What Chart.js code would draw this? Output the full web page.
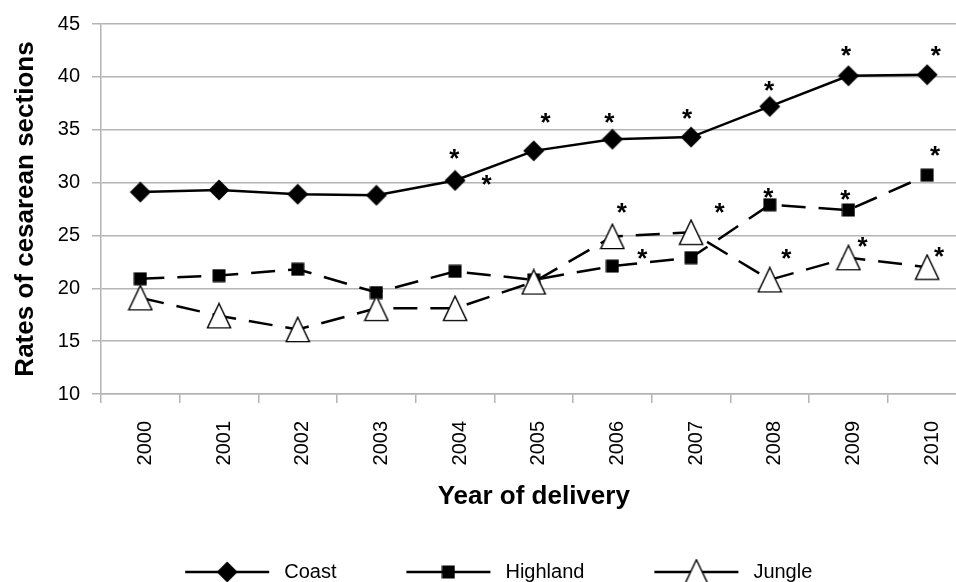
<!DOCTYPE html>
<html lang="en">
<head>
    <meta charset="UTF-8">
    <title>Rates of cesarean sections by year</title>
    <script src="https://cdn.jsdelivr.net/npm/chart.js"></script>
    <style>
        html, body {
            margin: 0;
            padding: 0;
            background: #fff;
            overflow: hidden;
        }
        #wrap {
            width: 981px;
            height: 582px;
        }
    </style>
</head>
<body>
    <div id="wrap">
        <canvas id="csChart" width="981" height="582"></canvas>
    </div>

    <script>
        // data
        const years = ["2000", "2001", "2002", "2003", "2004", "2005", "2006", "2007", "2008", "2009", "2010"];
        const coast = [29.1, 29.3, 28.9, 28.8, 30.2, 33.0, 34.1, 34.3, 37.2, 40.1, 40.2];
        const highland = [20.9, 21.2, 21.8, 19.6, 21.6, 20.8, 22.1, 22.9, 27.9, 27.4, 30.7];
        const jungle = [19.1, 17.4, 16.1, 18.1, 18.1, 20.6, 24.9, 25.3, 20.8, 22.9, 22.0];
        const yTicks = [10, 15, 20, 25, 30, 35, 40, 45];

        // significance asterisks (category index, value)
        const starIdx = [3.99, 4.40, 5.15, 5.96, 6.95, 7.99, 8.97, 10.11, 7.98, 8.96, 10.10, 6.12, 7.36, 6.38, 8.21, 9.18, 10.15];
        const starVal = [32.9, 30.4, 36.3, 36.3, 36.7, 39.3, 42.6, 42.6, 29.25, 28.97, 33.2, 27.75, 27.75, 23.44, 23.44, 24.56, 23.62];

        const FONT = "Arial, 'Liberation Sans', sans-serif";

        // marker images
        function makeDiamond() {
            const c = document.createElement("canvas");
            c.width = 22; c.height = 22;
            const g = c.getContext("2d");
            g.beginPath();
            g.moveTo(11, 0.5); g.lineTo(21.5, 11); g.lineTo(11, 21.5); g.lineTo(0.5, 11);
            g.closePath();
            g.fillStyle = "#000";
            g.fill();
            return c;
        }
        function makeSquare() {
            const c = document.createElement("canvas");
            c.width = 14; c.height = 14;
            const g = c.getContext("2d");
            g.fillStyle = "#000";
            g.fillRect(0.5, 0.5, 13, 13);
            return c;
        }
        function makeTriangle() {
            const c = document.createElement("canvas");
            c.width = 26; c.height = 27;
            const g = c.getContext("2d");
            g.beginPath();
            g.moveTo(13, 1.2); g.lineTo(24.6, 25.6); g.lineTo(1.4, 25.6);
            g.closePath();
            g.fillStyle = "#fff";
            g.fill();
            g.lineWidth = 1.4;
            g.strokeStyle = "#000";
            g.stroke();
            return c;
        }
        const diamond = makeDiamond();
        const square = makeSquare();
        const triangle = makeTriangle();

        const starPlugin = {
            id: "stars",
            afterDatasetsDraw(chart) {
                const ctx = chart.ctx;
                const xs = chart.scales.x, ys = chart.scales.y;
                ctx.save();
                ctx.fillStyle = "#000";
                ctx.font = "bold 26px " + FONT;
                ctx.textAlign = "center";
                ctx.textBaseline = "alphabetic";
                starIdx.forEach((ix, i) => {
                    const px = xs.getPixelForValue(ix);
                    const py = ys.getPixelForValue(starVal[i]);
                    ctx.fillText("*", px, py + 15);
                });
                ctx.restore();
            }
        };

        // legend: line + marker, then label
        const legendPlugin = {
            id: "lineLegend",
            afterDraw(chart) {
                const ctx = chart.ctx;
                const items = chart.data.datasets.map(d => ({ text: d.label, img: d.pointStyle }));
                const lineW = 84, gapText = 15, gapItem = 70;
                ctx.save();
                ctx.font = "20px " + FONT;
                let total = 0;
                items.forEach((it, i) => {
                    it.w = ctx.measureText(it.text).width;
                    total += lineW + gapText + it.w + (i ? gapItem : 0);
                });
                const ca = chart.chartArea;
                let x = (ca.left + ca.right) / 2 - 35 - total / 2;
                const y = 572;
                items.forEach(it => {
                    ctx.strokeStyle = "#000";
                    ctx.lineWidth = 2.5;
                    ctx.beginPath();
                    ctx.moveTo(x, y);
                    ctx.lineTo(x + lineW, y);
                    ctx.stroke();
                    ctx.drawImage(it.img, x + lineW / 2 - it.img.width / 2, y - it.img.height / 2);
                    ctx.fillStyle = "#000";
                    ctx.textAlign = "left";
                    ctx.textBaseline = "middle";
                    ctx.fillText(it.text, x + lineW + gapText, y);
                    x += lineW + gapText + it.w + gapItem;
                });
                ctx.restore();
            }
        };

        const ctx = document.getElementById("csChart").getContext("2d");

        new Chart(ctx, {
            type: "line",
            data: {
                labels: years,
                datasets: [
                    {
                        label: "Coast",
                        data: coast,
                        borderColor: "#000",
                        borderWidth: 2.5,
                        pointStyle: diamond,
                        pointRadius: 10,
                        order: 2
                    },
                    {
                        label: "Highland",
                        data: highland,
                        borderColor: "#000",
                        borderWidth: 2.5,
                        borderDash: [24, 13],
                        pointStyle: square,
                        pointRadius: 8,
                        order: 1
                    },
                    {
                        label: "Jungle",
                        data: jungle,
                        borderColor: "#000",
                        borderWidth: 2.5,
                        borderDash: [24, 13],
                        pointStyle: triangle,
                        pointRadius: 12,
                        order: 0
                    }
                ]
            },
            options: {
                responsive: false,
                animation: false,
                layout: { padding: { left: 0, top: 21, right: 0, bottom: 70 } },
                plugins: {
                    legend: { display: false },
                    tooltip: { enabled: false }
                },
                scales: {
                    x: {
                        offset: true,
                        grid: {
                            offset: true,
                            drawOnChartArea: false,
                            drawTicks: true,
                            tickLength: 9,
                            color: "#b4b4b4",
                            lineWidth: 1.5
                        },
                        border: { color: "#b4b4b4", width: 1.5 },
                        ticks: {
                            color: "#000",
                            font: { family: FONT, size: 20 },
                            minRotation: 90,
                            maxRotation: 90,
                            autoSkip: false,
                            padding: 18,
                            labelOffset: 5
                        },
                        title: {
                            display: true,
                            text: "Year of delivery",
                            color: "#000",
                            font: { family: FONT, size: 26, weight: "bold" },
                            padding: { top: 0, bottom: 0 }
                        },
                        afterFit(scale) { scale.height = 118; }
                    },
                    y: {
                        min: 10,
                        max: 45,
                        afterBuildTicks(scale) { scale.ticks = yTicks.map(v => ({ value: v })); },
                        grid: {
                            color: "#b4b4b4",
                            lineWidth: 1.5,
                            tickLength: 9
                        },
                        border: { color: "#b4b4b4", width: 1.5 },
                        ticks: {
                            color: "#000",
                            font: { family: FONT, size: 20 },
                            padding: 12
                        },
                        title: {
                            display: true,
                            text: "Rates of cesarean sections",
                            color: "#000",
                            font: { family: FONT, size: 26, weight: "bold" },
                            padding: { top: 10, bottom: 10 }
                        },
                        afterFit(scale) { scale.width = 101; }
                    }
                }
            },
            plugins: [starPlugin, legendPlugin]
        });
    </script>
</body>
</html>
